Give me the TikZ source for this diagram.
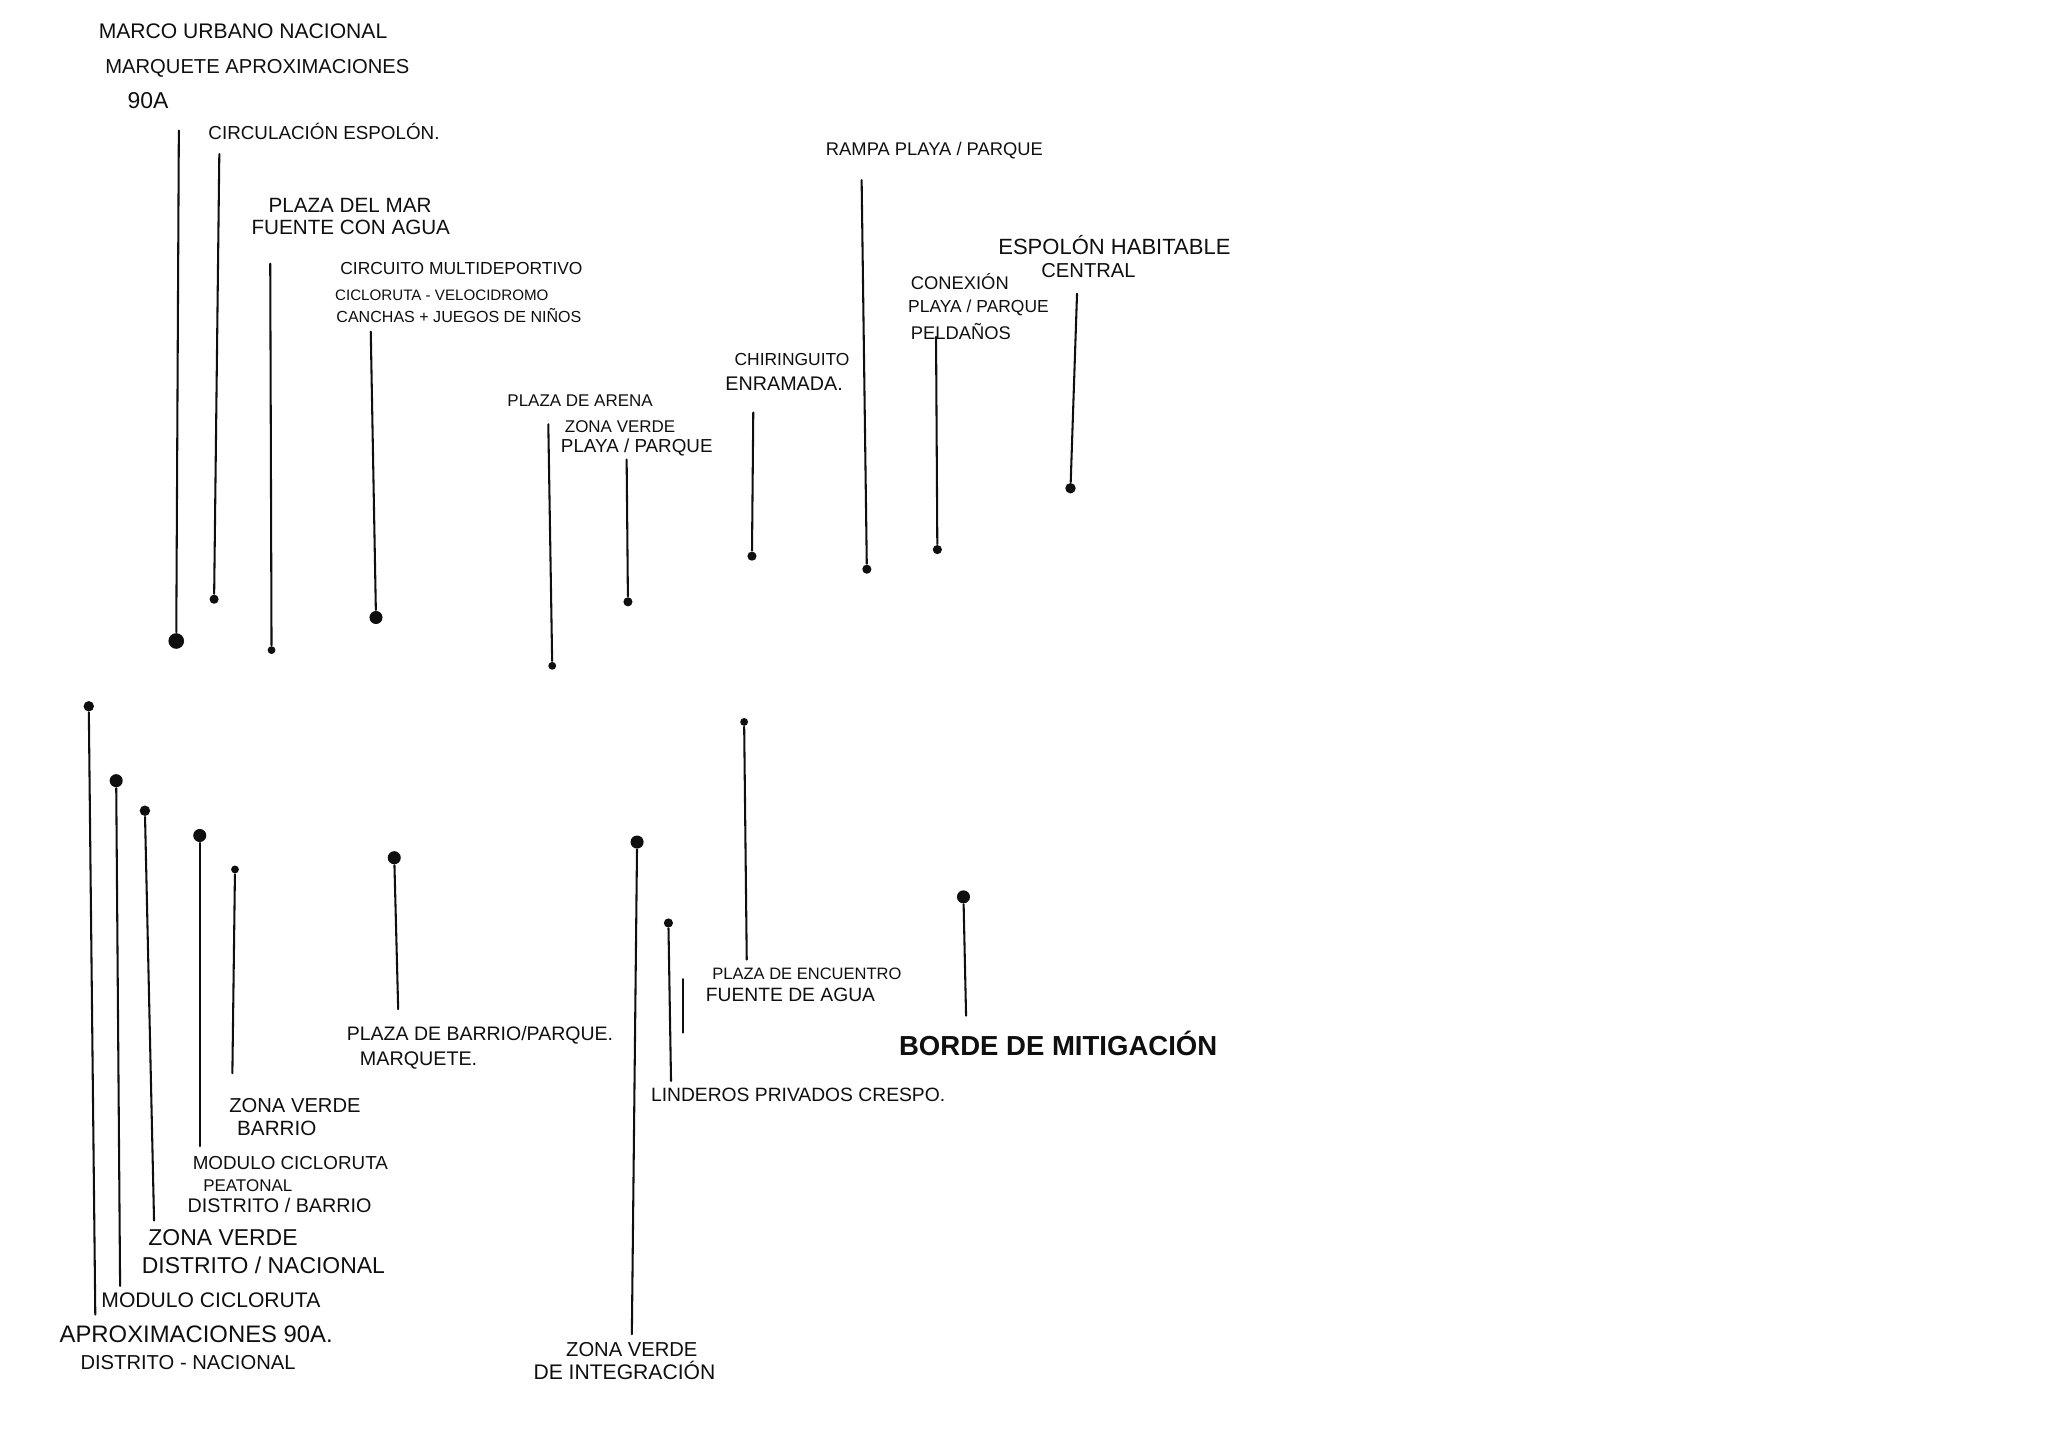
\documentclass[tikz,border=0pt]{standalone}
\usepackage{fontspec}
\setsansfont{Liberation Sans}
\usepackage{tikz}
\usetikzlibrary{positioning}
\definecolor{inkdark}{RGB}{15,15,15}
\tikzset{
  tag/.style={anchor=west, inner sep=0pt, text=inkdark,
    font=\sffamily\fontsize{#1}{#1}\selectfont},
  tagbold/.style={anchor=west, inner sep=0pt, text=inkdark,
    font=\sffamily\bfseries\fontsize{#1}{#1}\selectfont},
  pindot/.style={circle, fill=inkdark, inner sep=0pt, minimum size=#1},
  pindot/.default=0.07cm,
  lead/.style={line width=0.45pt, color=inkdark, line cap=round}
}

\begin{document}
\begin{tikzpicture}
  \useasboundingbox (0,0) rectangle (15.68,-11.09);

  % Upper labels
  \node[tag=4.6] (marco) at (0.75,-0.24) {MARCO URBANO NACIONAL};
  \node[tag=4.4] (marquete) at (0.80,-0.52) {MARQUETE APROXIMACIONES};
  \node[tag=5.0] (soa) at (0.97,-0.77) {90A};
  \node[tag=4.1] (circ) at (1.59,-1.01) {CIRCULACIÓN ESPOLÓN.};
  \node[tag=4.5] (plazamar) at (2.05,-1.57) {PLAZA DEL MAR};
  \node[tag=4.5] (fuente) at (1.92,-1.74) {FUENTE CON AGUA};
  \node[tag=3.8] (circuito) at (2.60,-2.06) {CIRCUITO MULTIDEPORTIVO};
  \node[tag=3.3] (ciclo) at (2.56,-2.26) {CICLORUTA - VELOCIDROMO};
  \node[tag=3.5] (canchas) at (2.57,-2.42) {CANCHAS + JUEGOS DE NIÑOS};
  \node[tag=3.7] (arena) at (3.88,-3.07) {PLAZA DE ARENA};
  \node[tag=3.7] (zvplaya) at (4.32,-3.27) {ZONA VERDE};
  \node[tag=4.1] (playa) at (4.29,-3.43) {PLAYA / PARQUE};
  \node[tag=3.8] (chiri) at (5.62,-2.75) {CHIRINGUITO};
  \node[tag=4.3] (enramada) at (5.55,-2.94) {ENRAMADA.};
  \node[tag=4.0] (rampa) at (6.32,-1.15) {RAMPA PLAYA / PARQUE};
  \node[tag=4.0] (conex) at (6.97,-2.16) {CONEXIÓN};
  \node[tag=3.8] (conplaya) at (6.95,-2.36) {PLAYA / PARQUE};
  \node[tag=4.0] (peldanos) at (6.97,-2.54) {PELDAÑOS};
  \node[tag=4.8] (espolon) at (7.64,-1.88) {ESPOLÓN HABITABLE};
  \node[tag=4.4] (central) at (7.97,-2.07) {CENTRAL};

  % Upper leaders
  \coordinate (t1) at (1.37,-1.00);
  \coordinate (t2) at (1.68,-1.18);
  \coordinate (t3) at (2.07,-2.02);
  \coordinate (t4) at (2.84,-2.54);
  \coordinate (t5) at (4.20,-3.25);
  \coordinate (t6) at (4.80,-3.52);
  \coordinate (t7) at (5.77,-3.16);
  \coordinate (t8) at (6.60,-1.38);
  \coordinate (t9) at (7.17,-2.58);
  \coordinate (t10) at (8.25,-2.25);
  \node[pindot=0.12cm] (d1) at (1.35,-4.91) {};
  \node[pindot] (d2) at (1.64,-4.59) {};
  \node[pindot=0.06cm] (d3) at (2.08,-4.98) {};
  \node[pindot=0.1cm] (d4) at (2.88,-4.73) {};
  \node[pindot=0.06cm] (d5) at (4.23,-5.10) {};
  \node[pindot] (d6) at (4.81,-4.61) {};
  \node[pindot] (d7) at (5.76,-4.26) {};
  \node[pindot] (d8) at (6.64,-4.36) {};
  \node[pindot] (d9) at (7.18,-4.21) {};
  \node[pindot=0.08cm] (d10) at (8.20,-3.74) {};
  \foreach \i in {1,...,10}
    \draw[lead] (t\i) -- (d\i);

  % Lower labels
  \node[tag=3.6] (encuentro) at (5.45,-7.46) {PLAZA DE ENCUENTRO};
  \node[tag=4.2] (fuenteagua) at (5.40,-7.62) {FUENTE DE AGUA};
  \node[tag=4.25] (plazabarrio) at (2.65,-7.93) {PLAZA DE BARRIO/PARQUE.};
  \node[tag=4.3] (marq) at (2.75,-8.12) {MARQUETE.};
  \node[tagbold=6.0] (borde) at (6.88,-7.99) {BORDE DE MITIGACIÓN};
  \node[tag=4.2] (linderos) at (4.98,-8.39) {LINDEROS PRIVADOS CRESPO.};
  \node[tag=4.4] (zvbarrio) at (1.75,-8.47) {ZONA VERDE};
  \node[tag=4.5] (barrio) at (1.81,-8.64) {BARRIO};
  \node[tag=4.1] (modpeat) at (1.47,-8.91) {MODULO CICLORUTA};
  \node[tag=3.7] (peatonal) at (1.55,-9.08) {PEATONAL};
  \node[tag=4.3] (distbarrio) at (1.43,-9.23) {DISTRITO / BARRIO};
  \node[tag=5.0] (zvdist) at (1.13,-9.48) {ZONA VERDE};
  \node[tag=5.0] (distnac) at (1.08,-9.69) {DISTRITO / NACIONAL};
  \node[tag=4.6] (modciclo) at (0.77,-9.96) {MODULO CICLORUTA};
  \node[tag=5.2] (aprox) at (0.45,-10.22) {APROXIMACIONES 90A.};
  \node[tag=4.4] (distnac2) at (0.61,-10.44) {DISTRITO - NACIONAL};
  \node[tag=4.4] (zvinteg) at (4.33,-10.34) {ZONA VERDE};
  \node[tag=4.6] (integ) at (4.08,-10.50) {DE INTEGRACIÓN};

  % Lower leaders
  \node[pindot=0.08cm] (e1) at (0.68,-5.41) {};
  \node[pindot=0.1cm] (e2) at (0.89,-5.98) {};
  \node[pindot=0.08cm] (e3) at (1.11,-6.21) {};
  \node[pindot=0.1cm] (e4) at (1.53,-6.40) {};
  \node[pindot=0.06cm] (e5) at (1.80,-6.66) {};
  \node[pindot=0.1cm] (e6) at (3.02,-6.57) {};
  \node[pindot=0.1cm] (e7) at (4.88,-6.45) {};
  \node[pindot] (e8) at (5.12,-7.07) {};
  \node[pindot=0.06cm] (e9) at (5.70,-5.53) {};
  \node[pindot=0.1cm] (e10) at (7.38,-6.87) {};
  \coordinate (b1) at (0.73,-10.07);
  \coordinate (b2) at (0.92,-9.85);
  \coordinate (b3) at (1.18,-9.35);
  \coordinate (b4) at (1.53,-8.78);
  \coordinate (b5) at (1.78,-8.22);
  \coordinate (b6) at (3.05,-7.73);
  \coordinate (b7) at (4.84,-10.22);
  \coordinate (b8) at (5.14,-8.28);
  \coordinate (b9) at (5.72,-7.35);
  \coordinate (b10) at (7.40,-7.78);
  \foreach \i in {1,...,10}
    \draw[lead] (e\i) -- (b\i);
  \coordinate (s1) at (5.23,-7.50);
  \coordinate (s2) at (5.23,-7.91);
  \draw[lead] (s1) -- (s2);
\end{tikzpicture}
\end{document}
